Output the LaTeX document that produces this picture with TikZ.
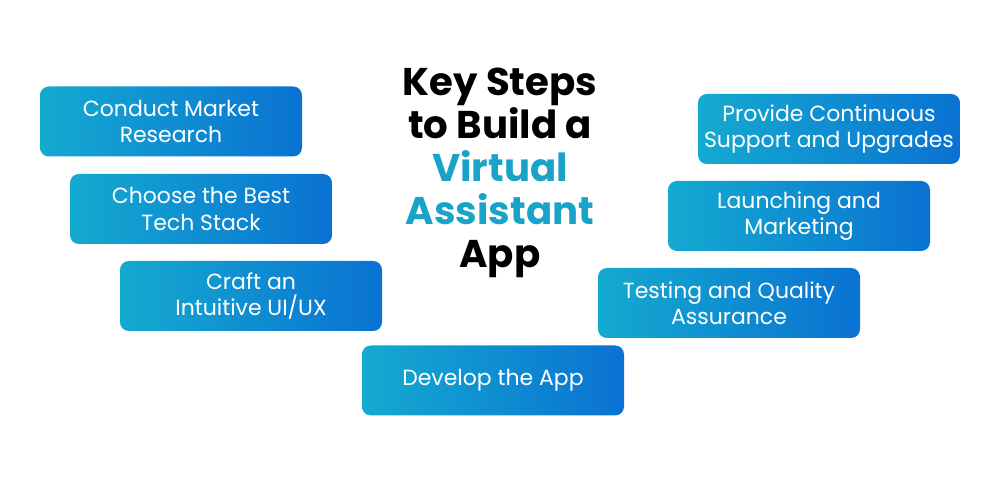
\documentclass[tikz,border=0pt]{standalone}
\usepackage{fontspec}
\setmainfont{Poppins}
\definecolor{stepcyan}{HTML}{14AAD0}
\definecolor{stepblue}{HTML}{0A72D2}
\definecolor{titleteal}{HTML}{1AA3C8}
\tikzset{
  stepbox/.style={rounded corners=5pt,minimum width=5.24cm,minimum height=1.4cm,
    left color=stepcyan,right color=stepblue,text=white,align=center,
    font=\fontsize{12.5}{15}\selectfont,inner sep=0pt},
}
\begin{document}
\begin{tikzpicture}[line cap=round,line join=round]
      \useasboundingbox (0,0) rectangle (20,9.76);

      % Title
      \node (title) at (10,6.3) [align=center,font=\bfseries\fontsize{22}{24.5}\selectfont]
        {Key Steps\\to Build a\\\textcolor{titleteal}{Virtual}\\\textcolor{titleteal}{Assistant}\\App};

      % Left steps
      \node[stepbox] (research) at (3.42,7.33) {Conduct Market\\Research};
      \node[stepbox] (stack) at (4.02,5.58) {Choose the Best\\Tech Stack};
      \node[stepbox] (design) at (5.02,3.84) {Craft an\\Intuitive UI/UX};

      % Bottom step
      \node[stepbox] (develop) at (9.86,2.15) {Develop the App};

      % Right steps
      \node[stepbox] (testing) at (14.58,3.70) {Testing and Quality\\Assurance};
      \node[stepbox] (launch) at (15.98,5.44) {Launching and\\Marketing};
      \node[stepbox] (support) at (16.58,7.18) {Provide Continuous\\Support and Upgrades};
    \end{tikzpicture}
\end{document}
